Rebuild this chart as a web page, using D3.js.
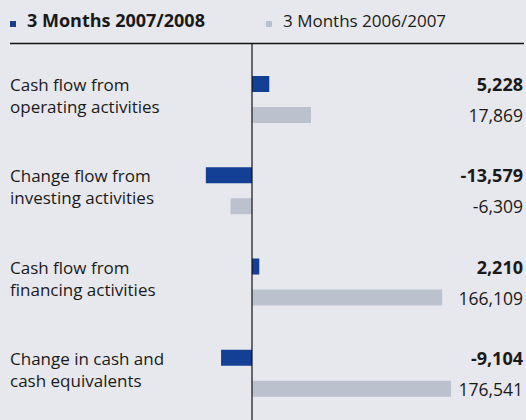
<!DOCTYPE html>
<html>
<head>
<meta charset="utf-8">
<script src="https://cdn.jsdelivr.net/npm/d3@7"></script>
<style>
  body { margin: 0; background: #e7e8ed; }
  svg { display: block; font-family: "Open Sans", "Noto Sans", sans-serif; }
  .cat { font-size: 17px; fill: #1a1a1a; }
  .val { font-size: 17.5px; fill: #1a1a1a; }
  .val.cur { font-weight: bold; font-size: 18px; }
</style>
</head>
<body>
<svg id="chart"></svg>
<script>
// categories, each label split over two lines
const categories = ["op", "inv", "fin", "chg"]
const categoryLines = [
  ["Cash flow from", "operating activities"],
  ["Change flow from", "investing activities"],
  ["Cash flow from", "financing activities"],
  ["Change in cash and", "cash equivalents"]
]
const seriesNames = ["3 Months 2007/2008", "3 Months 2006/2007"]
const current = [5228, -13579, 2210, -9104]
const previous = [17869, -6309, 166109, 176541]
const seriesColors = ["#133f95", "#bbc1cd"]

const width = 526, height = 420

const svg = d3.select("#chart")
    .attr("width", width)
    .attr("height", height)

svg.append("rect")
    .attr("width", width).attr("height", height)
    .attr("fill", "#e7e8ed")

// the original isn't drawn to one scale: small values are stretched,
// big ones compressed, so use a piecewise linear scale
const x = d3.scaleLinear()
    .domain([-15000, 0, 20000, 180000])
    .range([201, 252, 318, 454])

const y = d3.scaleBand()
    .domain(categories)
    .range([66, 431])

const ySub = d3.scaleBand()
    .domain(["cur", "prev"])
    .range([10, 57])
    .paddingInner(15 / 31)

// legend
const legend = svg.append("g")
const legendX = [10, 266]
seriesNames.forEach((name, i) => {
  legend.append("rect")
      .attr("x", legendX[i]).attr("y", 21)
      .attr("width", 6).attr("height", 6)
      .attr("fill", seriesColors[i])
  legend.append("text")
      .attr("x", legendX[i] + 17).attr("y", 27)
      .attr("font-size", i == 0 ? 18 : 17)
      .attr("font-weight", i == 0 ? "bold" : "normal")
      .attr("fill", "#1a1a1a")
      .text(name)
})

// top rule
svg.append("line")
    .attr("x1", 10).attr("x2", 524)
    .attr("y1", 43.5).attr("y2", 43.5)
    .attr("stroke", "#111").attr("stroke-width", 1.5)

const groups = svg.selectAll(".group")
    .data(categories)
  .enter().append("g")
    .attr("class", "group")
    .attr("transform", d => "translate(0," + y(d) + ")")

groups.each(function(c, i) {
  const g = d3.select(this)
  const rows = [
    { key: "cur", value: current[i], color: seriesColors[0] },
    { key: "prev", value: previous[i], color: seriesColors[1] }
  ]

  g.selectAll(".bar")
      .data(rows)
    .enter().append("rect")
      .attr("class", "bar")
      .attr("x", d => Math.min(x(0), x(d.value)))
      .attr("width", d => Math.abs(x(d.value) - x(0)))
      .attr("y", d => ySub(d.key))
      .attr("height", ySub.bandwidth())
      .attr("fill", d => d.color)

  g.selectAll(".val")
      .data(rows)
    .enter().append("text")
      .attr("class", d => "val " + d.key)
      .attr("x", 523)
      .attr("y", d => ySub(d.key) + ySub.bandwidth() - 1)
      .attr("text-anchor", "end")
      .text(d => d3.format(",")(d.value).replace("−", "-"))

  g.append("text")
      .attr("class", "cat")
      .selectAll("tspan")
      .data(categoryLines[i])
    .enter().append("tspan")
      .attr("x", 10)
      .attr("y", (d, j) => 25 + j * 22)
      .text(d => d)
})

// zero line
svg.append("line")
    .attr("x1", x(0)).attr("x2", x(0))
    .attr("y1", 43).attr("y2", height)
    .attr("stroke", "#111").attr("stroke-width", 1.2)
</script>
</body>
</html>
